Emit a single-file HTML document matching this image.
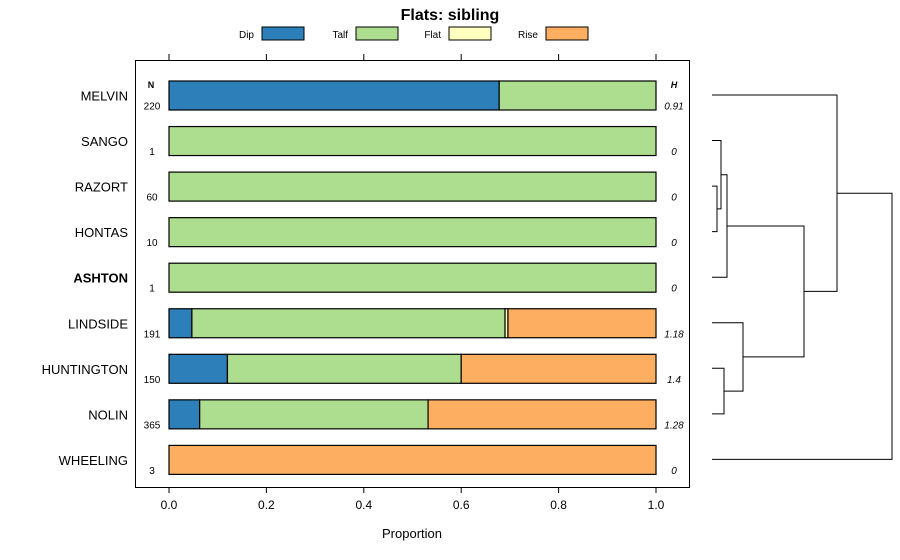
<!DOCTYPE html>
<html><head><meta charset="utf-8"><style>
body{margin:0;background:#fff}
svg{display:block;font-family:"Liberation Sans",sans-serif}
</style></head><body>
<svg id="chart" width="900" height="560"></svg>
<script>
const categories=["MELVIN","SANGO","RAZORT","HONTAS","ASHTON","LINDSIDE","HUNTINGTON","NOLIN","WHEELING"];
const counts=[220,1,60,10,1,191,150,365,3];
const entropy=["0.91","0","0","0","0","1.18","1.4","1.28","0"];
const dip=[0.678,0,0,0,0,0.047,0.12,0.063,0];
const talf=[0.322,1,1,1,1,0.643,0.48,0.469,0];
const flat=[0,0,0,0,0,0.006,0,0,0];
const rise=[0,0,0,0,0,0.304,0.4,0.468,1];
const xTicks=[0,0.2,0.4,0.6,0.8,1.0];
const xTickLabels=["0.0","0.2","0.4","0.6","0.8","1.0"];
const seriesNames=["Dip","Talf","Flat","Rise"];
const colors=["#2c7fb8","#addd8e","#ffffbf","#fdae61"];
// dendrogram merges: [childA, childB, height]; leaves 0..8, merges create nodes 9..
const merges=[[3,2,0.1],[1,9,0.18],[10,4,0.3],[6,7,0.24],[5,12,0.62],[11,13,1.84],[0,14,2.5],[15,8,3.6]];

const svg=document.getElementById('chart');
const NS='http://www.w3.org/2000/svg';
function mk(tag,attrs,parent){const e=document.createElementNS(NS,tag);for(const k in attrs)e.setAttribute(k,attrs[k]);(parent||svg).appendChild(e);return e;}
const x=v=>169+v*487;
const y=i=>95.5+i*45.55;
const bh=29;

const title=mk('text',{x:450,y:20,'text-anchor':'middle','font-size':16,'font-weight':'bold'});
title.textContent='Flats: sibling';


const legendX=[262,356,449,546];
seriesNames.forEach((n,k)=>{
  const g=mk('g',{});
  
  
  const t=mk('text',{x:legendX[k]-8,y:38,'text-anchor':'end','font-size':10},g);t.textContent=n;
  mk('rect',{x:legendX[k],y:27,width:42,height:13,fill:colors[k],stroke:'#000','stroke-width':1},g);
});

const panel=mk('rect',{x:135.5,y:60.5,width:554,height:427,fill:'none',stroke:'#000','stroke-width':1});



xTicks.forEach((v,k)=>{
  mk('line',{x1:x(v),x2:x(v),y1:487,y2:493,stroke:'#000'});
  mk('line',{x1:x(v),x2:x(v),y1:54,y2:60,stroke:'#000'});
  const t=mk('text',{x:x(v),y:509,'text-anchor':'middle','font-size':12});
  t.textContent=xTickLabels[k];
  
  
});
const xt=mk('text',{x:412,y:538,'text-anchor':'middle','font-size':13});
xt.textContent='Proportion';



const hN=mk('text',{x:151,y:88,'text-anchor':'middle','font-size':9,'font-weight':'bold'});hN.textContent='N';
const hH=mk('text',{x:674,y:88,'text-anchor':'middle','font-size':9,'font-weight':'bold','font-style':'italic'});hH.textContent='H';

categories.forEach((c,i)=>{
  const lab=mk('text',{x:128,y:y(i)+5,'text-anchor':'end','font-size':13,'font-weight':c==='ASHTON'?'bold':'normal'});
  lab.textContent=c;
  
  
  const n=mk('text',{x:152,y:y(i)+14,'text-anchor':'middle','font-size':10});n.textContent=counts[i];
  const h=mk('text',{x:674,y:y(i)+14,'text-anchor':'middle','font-size':10,'font-style':'italic'});h.textContent=entropy[i];
  const vals=[dip[i],talf[i],flat[i],rise[i]];
  let acc=0;
  vals.forEach((v,k)=>{
    if(v<=0){return;}
    const r=mk('rect',{x:x(acc),y:y(i)-bh/2,width:x(acc+v)-x(acc),height:bh,fill:colors[k],stroke:'#000','stroke-width':1.2});
    
    
    acc+=v;
  });
});

// dendrogram
const dx=h=>712+h*50;
const nodes=categories.map((c,i)=>({y:y(i)-0.5,h:0}));
const dg=mk('g',{fill:'none',stroke:'#000','stroke-width':1});


merges.forEach(m=>{
  const a=nodes[m[0]],b=nodes[m[1]],X=dx(m[2]);
  mk('path',{d:`M${dx(a.h)},${a.y}H${X}V${b.y}H${dx(b.h)}`},dg);
  nodes.push({y:(a.y+b.y)/2,h:m[2]});
});
</script>
</body></html>
